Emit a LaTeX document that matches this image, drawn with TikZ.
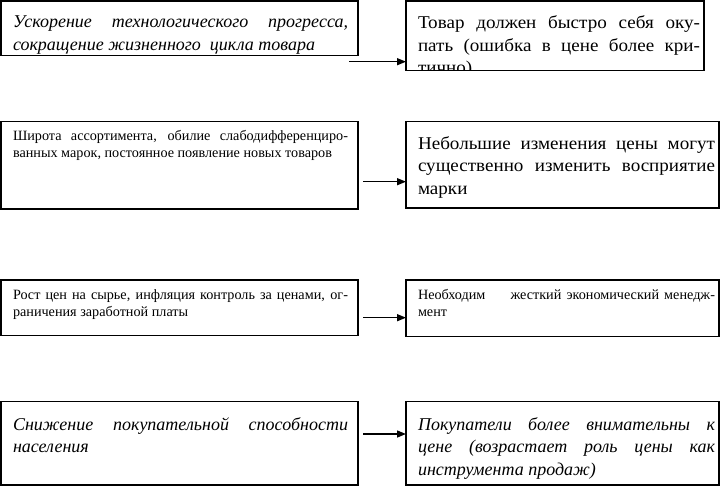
\documentclass[tikz,border=0pt]{standalone}
\usepackage{fontspec}
\setmainfont{Liberation Serif}
\newfontfamily\wideserif[FakeStretch=1.06]{Liberation Serif}
\usetikzlibrary{arrows.meta}
\newcommand{\jl}[1]{\makebox[\linewidth][s]{#1}}
\newcommand{\bigf}{\fontsize{18}{22.7}\selectfont}
\newcommand{\smallf}{\fontsize{14.2}{17}\selectfont}
\begin{document}
\begin{tikzpicture}[x=1pt,y=-1pt,
  box/.style={draw, line width=1.5pt, inner sep=0pt, outer sep=0pt, anchor=north west},
  txt/.style={inner sep=0pt, outer sep=0pt, anchor=base west},
  arr/.style={line width=1.4pt, -{Triangle[length=9pt,width=7pt]}}]
\useasboundingbox (0,0) rectangle (720,486);

% boxes
\node[box, minimum width=357pt, minimum height=54.5pt] (L1) at (1,1) {};
\node[box, minimum width=298pt, minimum height=69.7pt] (R1) at (406,1) {};
\node[box, minimum width=357pt, minimum height=87.3pt] (L2) at (1,121.7) {};
\node[box, minimum width=313pt, minimum height=86.3pt] (R2) at (406,121.7) {};
\node[box, minimum width=357pt, minimum height=55.5pt] (L3) at (1,280) {};
\node[box, minimum width=313pt, minimum height=56.5pt] (R3) at (406,280) {};
\node[box, minimum width=357pt, minimum height=83.3pt] (L4) at (1,401.7) {};
\node[box, minimum width=313pt, minimum height=83.3pt] (R4) at (406,401.7) {};

% texts (clipped to their boxes)
\begin{scope}
\clip (L1.north west) rectangle (L1.south east);
\node[txt] (L1t) at (13,28) {\parbox[t]{335pt}{\bigf\itshape
  \jl{Ускорение технологического прогресса,}\\
  сокращение жизненного\ \ цикла товара}};
\end{scope}
\begin{scope}
\clip (R1.north west) rectangle (R1.south east);
\node[txt] (R1t) at (418,28.5) {\parbox[t]{282pt}{\wideserif\bigf
  \jl{Товар должен быстро себя оку-}\\
  \jl{пать (ошибка в цене более кри-}\\
  тично)}};
\end{scope}
\begin{scope}
\clip (L2.north west) rectangle (L2.south east);
\node[txt] (L2t) at (13,140.7) {\parbox[t]{335pt}{\smallf
  \jl{Широта ассортимента, обилие слабодифференциро-}\\
  ванных марок, постоянное появление новых товаров}};
\end{scope}
\begin{scope}
\clip (R2.north west) rectangle (R2.south east);
\node[txt] (R2t) at (418,149.3) {\parbox[t]{297pt}{\wideserif\bigf
  \jl{Небольшие изменения цены могут}\\
  \jl{существенно изменить восприятие}\\
  марки}};
\end{scope}
\begin{scope}
\clip (L3.north west) rectangle (L3.south east);
\node[txt] (L3t) at (13,300) {\parbox[t]{335pt}{\smallf
  \jl{Рост цен на сырье, инфляция контроль за ценами, ог-}\\
  раничения заработной платы}};
\end{scope}
\begin{scope}
\clip (R3.north west) rectangle (R3.south east);
\node[txt] (R3t) at (418,300) {\parbox[t]{297pt}{\smallf
  \jl{Необходим\hspace{20pt} жесткий экономический менедж-}\\
  мент}};
\end{scope}
\begin{scope}
\clip (L4.north west) rectangle (L4.south east);
\node[txt] (L4t) at (13,430) {\parbox[t]{335pt}{\bigf\itshape
  \jl{Снижение покупательной способности}\\
  населения}};
\end{scope}
\begin{scope}
\clip (R4.north west) rectangle (R4.south east);
\node[txt] (R4t) at (418,430) {\parbox[t]{297pt}{\bigf\itshape
  \jl{Покупатели более внимательны к}\\
  \jl{цене (возрастает роль цены как}\\
  инструмента продаж)}};
\end{scope}

% connectors
\coordinate (a1) at (349,61.7);
\coordinate (a2) at (363,181.7);
\coordinate (a3) at (363,317.7);
\coordinate (a4) at (363,434);
\draw[arr] (a1) -- (R1.west |- a1);
\draw[arr] (a2) -- (R2.west |- a2);
\draw[arr] (a3) -- (R3.west |- a3);
\draw[arr] (a4) -- (R4.west |- a4);
\end{tikzpicture}
\end{document}
